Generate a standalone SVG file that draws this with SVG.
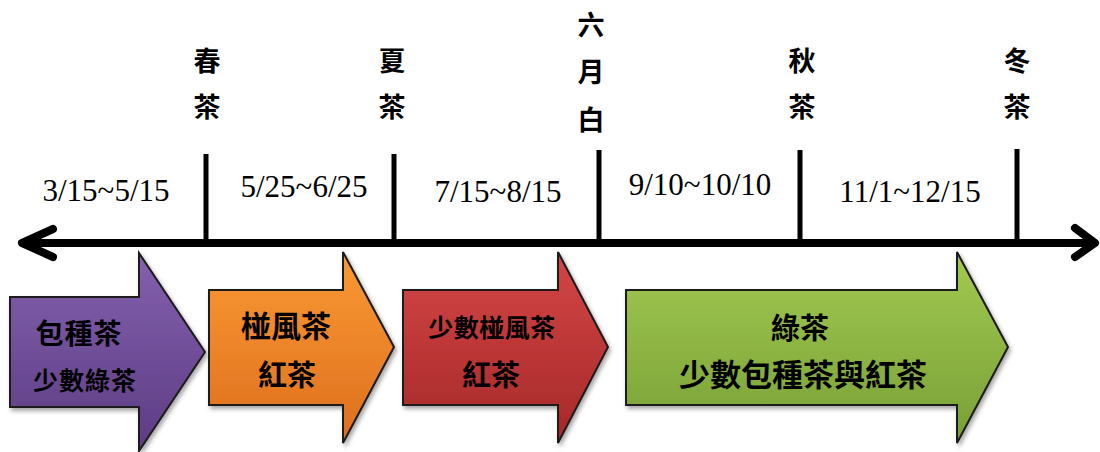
<svg xmlns="http://www.w3.org/2000/svg" width="1100" height="452" viewBox="0 0 1100 452">
<style>
.cjk{font-family:"Noto Sans CJK TC","Noto Sans CJK SC",sans-serif;font-weight:700;fill:#000;text-anchor:middle}
.date{font-family:"Liberation Serif","Times New Roman",serif;font-size:31px;fill:#000;text-anchor:middle}
.axis{stroke:#000;stroke-width:8;fill:none;stroke-linecap:round;stroke-linejoin:round}
.tick{stroke:#000;stroke-width:5}
.blk{stroke:#1a1a1a;stroke-width:2;filter:url(#sh)}
</style>
<defs>
<linearGradient id="gP" x1="0" y1="0" x2="0" y2="1"><stop offset="0" stop-color="#8461AE"/><stop offset="1" stop-color="#5C3C83"/></linearGradient>
<linearGradient id="gO" x1="0" y1="0" x2="0" y2="1"><stop offset="0" stop-color="#FA9A34"/><stop offset="1" stop-color="#DE6E1E"/></linearGradient>
<linearGradient id="gR" x1="0" y1="0" x2="0" y2="1"><stop offset="0" stop-color="#D54646"/><stop offset="1" stop-color="#A52828"/></linearGradient>
<linearGradient id="gG" x1="0" y1="0" x2="0" y2="1"><stop offset="0" stop-color="#A2CA52"/><stop offset="1" stop-color="#789F35"/></linearGradient>
<filter id="sh" x="-10%" y="-10%" width="130%" height="130%"><feDropShadow dx="2" dy="3" stdDeviation="2" flood-color="#000" flood-opacity="0.35"/></filter>
</defs>
<rect width="1100" height="452" fill="#fff"/>

<g id="connectors">
<line class="axis" x1="24" y1="243" x2="1093" y2="243"/>
<polyline class="axis" points="53,229 22,243 53,257"/>
<polyline class="axis" points="1075,228 1095,243 1075,257"/>
<line class="tick" x1="206" y1="154" x2="206" y2="243"/>
<line class="tick" x1="394" y1="154" x2="394" y2="243"/>
<line class="tick" x1="599" y1="150" x2="599" y2="243"/>
<line class="tick" x1="800" y1="150" x2="800" y2="243"/>
<line class="tick" x1="1017" y1="149" x2="1017" y2="240"/>
</g>

<g id="dates">
<text class="date" x="106" y="201">3/15~5/15</text>
<text class="date" x="304" y="197">5/25~6/25</text>
<text class="date" x="498" y="202">7/15~8/15</text>
<text class="date" x="700" y="195">9/10~10/10</text>
<text class="date" x="910" y="202">11/1~12/15</text>
</g>

<g id="label-spring" class="cjk" font-size="27"><text x="207" y="71">春</text><text x="207" y="117">茶</text></g>
<g id="label-summer" class="cjk" font-size="27"><text x="392" y="71">夏</text><text x="392" y="117">茶</text></g>
<g id="label-june" class="cjk" font-size="27"><text x="591" y="35">六</text><text x="591" y="82">月</text><text x="591" y="130">白</text></g>
<g id="label-autumn" class="cjk" font-size="27"><text x="802" y="71">秋</text><text x="802" y="117">茶</text></g>
<g id="label-winter" class="cjk" font-size="27"><text x="1017" y="71">冬</text><text x="1017" y="117">茶</text></g>

<g id="node-purple">
<path class="blk" fill="url(#gP)" d="M10,297 H139 V253 L205,352 L139,451 V407 H10 Z"/>
<text class="cjk" x="79" y="344" font-size="28" letter-spacing="1">包種茶</text>
<text class="cjk" x="85" y="390" font-size="25" letter-spacing="1">少數綠茶</text>
</g>
<g id="node-orange">
<path class="blk" fill="url(#gO)" d="M209,290 H343 V252 L394,347 L343,443 V405 H209 Z"/>
<text class="cjk" x="286" y="337" font-size="30">椪風茶</text>
<text class="cjk" x="287" y="386" font-size="29">紅茶</text>
</g>
<g id="node-red">
<path class="blk" fill="url(#gR)" d="M403,290 H558 V252 L608,347 L558,443 V405 H403 Z"/>
<text class="cjk" x="492" y="337" font-size="25" letter-spacing="0.5">少數椪風茶</text>
<text class="cjk" x="491" y="386" font-size="29">紅茶</text>
</g>
<g id="node-green">
<path class="blk" fill="url(#gG)" d="M626,290 H957 V252 L1008,347 L957,443 V405 H626 Z"/>
<text class="cjk" x="800" y="339" font-size="29">綠茶</text>
<text class="cjk" x="803" y="386" font-size="31">少數包種茶與紅茶</text>
</g>
</svg>
